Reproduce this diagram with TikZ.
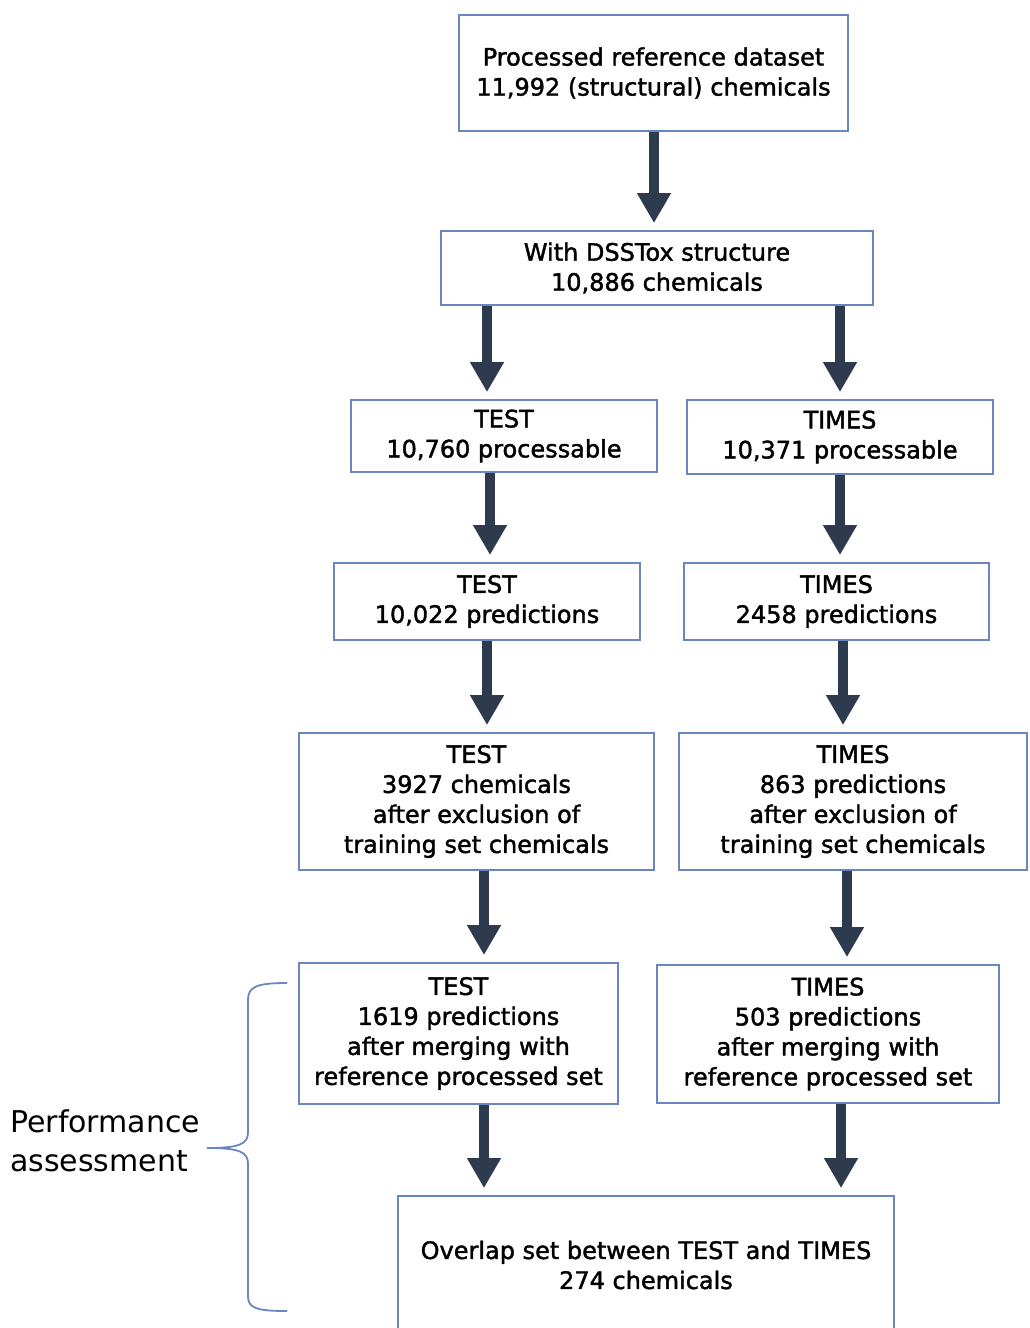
\documentclass[tikz,border=0pt]{standalone}
\usepackage{fontspec}
\setmainfont{DejaVu Sans}
\newfontfamily\boxfont{DejaVu Sans}[FakeBold=1.6]
\usetikzlibrary{arrows.meta}
\definecolor{boxblue}{HTML}{6A86C2}
\definecolor{arrowdark}{HTML}{2E3B4E}
\begin{document}
\begin{tikzpicture}[x=1pt,y=-1pt,
  box/.style={draw=boxblue,line width=1.8pt,fill=white,align=center,inner sep=0pt,
    font=\boxfont\fontsize{24}{30}\selectfont},
  bigarrow/.style={draw=arrowdark,line width=10pt,
    -{Triangle[width=32pt,length=30pt]},shorten >=7pt},
  brace/.style={draw=boxblue,line width=1.8pt}]
\clip (0,0) rectangle (1029,1328);
\fill[white] (0,0) rectangle (1029,1328);

\node[box,minimum width=389pt,minimum height=116pt] (n1) at (653.5,73)
  {Processed reference dataset\\11,992 (structural) chemicals};
\node[box,minimum width=432pt,minimum height=74pt] (n2) at (657,268)
  {With DSSTox structure\\10,886 chemicals};
\node[box,minimum width=306pt,minimum height=72pt] (n3) at (504,436)
  {TEST\\10,760 processable};
\node[box,minimum width=306pt,minimum height=74pt] (n4) at (840,437)
  {TIMES\\10,371 processable};
\node[box,minimum width=306pt,minimum height=77pt] (n5) at (487,601.5)
  {TEST\\10,022 predictions};
\node[box,minimum width=305pt,minimum height=77pt] (n6) at (836.5,601.5)
  {TIMES\\2458 predictions};
\node[box,minimum width=355pt,minimum height=137pt] (n7) at (476.5,801.5)
  {TEST\\3927 chemicals\\after exclusion of\\training set chemicals};
\node[box,minimum width=348pt,minimum height=137pt] (n8) at (853,801.5)
  {TIMES\\863 predictions\\after exclusion of\\training set chemicals};
\node[box,minimum width=319pt,minimum height=141pt] (n9) at (458.5,1033.5)
  {TEST\\1619 predictions\\after merging with\\reference processed set};
\node[box,minimum width=342pt,minimum height=138pt] (n10) at (828,1034)
  {TIMES\\503 predictions\\after merging with\\reference processed set};
\node[box,minimum width=496pt,minimum height=138pt] (n11) at (646,1265)
  {Overlap set between TEST and TIMES\\274 chemicals};

\draw[bigarrow] (n1.south -| 654,0) -- (n2.north -| 654,0);
\draw[bigarrow] (n2.south -| 487,0) -- (n3.north -| 487,0);
\draw[bigarrow] (n2.south -| 840,0) -- (n4.north -| 840,0);
\draw[bigarrow] (n3.south -| 490,0) -- (n5.north -| 490,0);
\draw[bigarrow] (n4.south -| 840,0) -- (n6.north -| 840,0);
\draw[bigarrow] (n5.south -| 487,0) -- (n7.north -| 487,0);
\draw[bigarrow] (n6.south -| 843,0) -- (n8.north -| 843,0);
\draw[bigarrow] (n7.south -| 484,0) -- (n9.north -| 484,0);
\draw[bigarrow] (n8.south -| 847,0) -- (n10.north -| 847,0);
\draw[bigarrow] (n9.south -| 484,0) -- (n11.north -| 484,0);
\draw[bigarrow] (n10.south -| 841,0) -- (n11.north -| 841,0);

\node[align=left,anchor=west,inner sep=0pt,font=\fontsize{30}{39}\selectfont] (perf) at (10,1141)
  {Performance\\assessment};
\draw[brace] (287,983) .. controls (256,983) and (248,987) .. (248,1000) -- (248,1132)
  .. controls (248,1144) and (240,1148) .. (207,1148)
  .. controls (240,1148) and (248,1152) .. (248,1164) -- (248,1296)
  .. controls (248,1308) and (256,1311) .. (287,1311);
\end{tikzpicture}
\end{document}
